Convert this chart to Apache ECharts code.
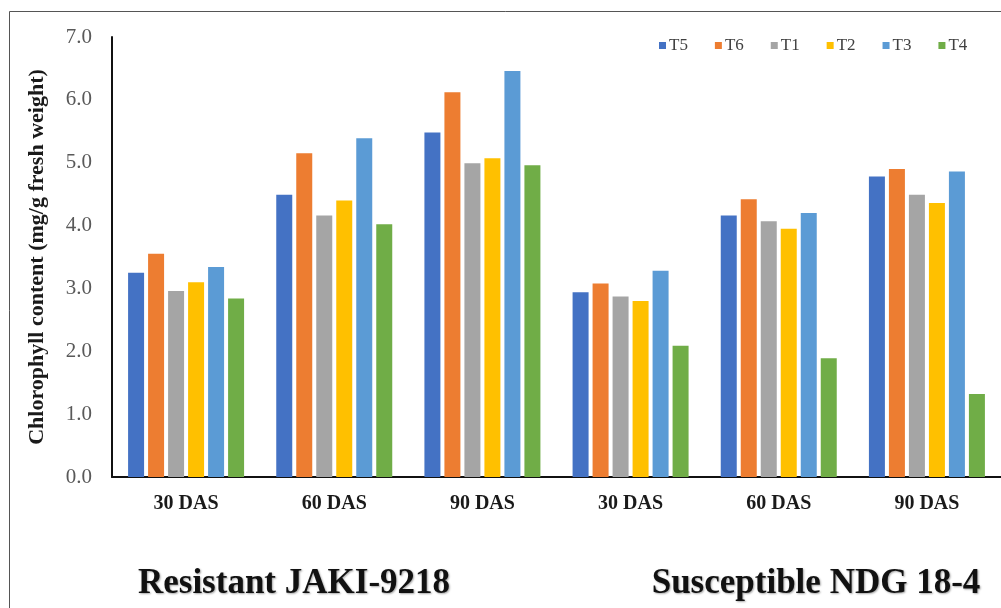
<!DOCTYPE html>
<html>
<head>
<meta charset="utf-8">
<script src="https://cdn.jsdelivr.net/npm/echarts@6/dist/echarts.min.js"></script>
<style>html,body{margin:0;padding:0;background:#fff;}#c{width:1001px;height:608px;}</style>
</head>
<body>
<div id="c"></div>
<script>
const categories = ['30 DAS', '60 DAS', '90 DAS', '30 DAS', '60 DAS', '90 DAS'];
const seriesNames = ['T5', 'T6', 'T1', 'T2', 'T3', 'T4'];
const T5 = [3.25, 4.49, 5.48, 2.94, 4.16, 4.78];
const T6 = [3.55, 5.15, 6.12, 3.08, 4.42, 4.90];
const T1 = [2.96, 4.16, 4.99, 2.87, 4.07, 4.49];
const T2 = [3.10, 4.40, 5.07, 2.80, 3.95, 4.36];
const T3 = [3.34, 5.39, 6.46, 3.28, 4.20, 4.86];
const T4 = [2.84, 4.02, 4.96, 2.09, 1.89, 1.32];
const groupNames = ['Resistant JAKI-9218', 'Susceptible NDG 18-4'];
const yTicks = [0, 1, 2, 3, 4, 5, 6, 7];
const yName = 'Chlorophyll content (mg/g fresh weight)';

const values = [T5, T6, T1, T2, T3, T4];
const colors = ['#4472C4', '#ED7D31', '#A5A5A5', '#FFC000', '#5B9BD5', '#70AD47'];
const serif = '"Liberation Serif", "Times New Roman", serif';

const chart = echarts.init(document.getElementById('c'), null, {renderer: 'canvas'});
const titleStyle = {fontFamily: serif, fontWeight: 'bold', fontSize: 35, color: '#111',
  textShadowColor: 'rgba(0,0,0,0.35)', textShadowBlur: 2, textShadowOffsetX: 1, textShadowOffsetY: 1};
chart.setOption({
  animation: false,
  backgroundColor: '#fff',
  color: colors,
  graphic: [{
    type: 'rect', silent: true,
    shape: {x: 9.5, y: 11.5, width: 1200, height: 800},
    style: {fill: 'none', stroke: '#555', lineWidth: 1}
  }],
  title: [
    {text: groupNames[0], left: 289, top: 561, textAlign: 'center', textStyle: titleStyle},
    {text: groupNames[1], left: 811, top: 561, textAlign: 'center', textStyle: titleStyle}
  ],
  legend: {
    data: seriesNames,
    left: 654, top: 32,
    icon: 'rect', itemWidth: 7, itemHeight: 7, itemGap: 27,
    textStyle: {fontFamily: serif, fontSize: 17, color: '#404040', padding: [0, 0, 0, -2]}
  },
  grid: {left: 112, right: -4, top: 37, bottom: 131, containLabel: false},
  xAxis: {
    type: 'category',
    data: categories,
    axisLine: {lineStyle: {color: '#111', width: 2}},
    axisTick: {show: false},
    axisLabel: {fontFamily: serif, fontWeight: 'bold', fontSize: 20, color: '#1a1a1a', margin: 17, interval: 0}
  },
  yAxis: {
    type: 'value',
    min: yTicks[0], max: yTicks[yTicks.length - 1], interval: 1,
    name: yName,
    nameLocation: 'middle',
    nameGap: 64,
    nameTextStyle: {fontFamily: serif, fontWeight: 'bold', fontSize: 22, color: '#1a1a1a'},
    axisLine: {show: true, lineStyle: {color: '#111', width: 2}},
    axisTick: {show: false},
    splitLine: {show: false},
    axisLabel: {fontFamily: serif, fontSize: 21, color: '#595959', margin: 20,
                formatter: v => v.toFixed(1)}
  },
  series: seriesNames.map((n, i) => ({
    name: n,
    type: 'bar',
    data: values[i],
    barWidth: 16,
    barGap: '25%',
    itemStyle: {color: colors[i]}
  }))
});
</script>
</body>
</html>
